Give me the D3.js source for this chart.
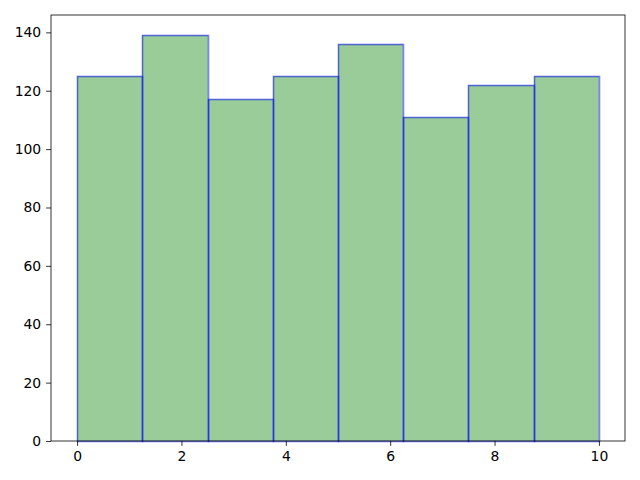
<!DOCTYPE html>
<html><head><meta charset="utf-8">
<script src="https://cdn.jsdelivr.net/npm/d3@7"></script>
<style>body{margin:0;background:#fff}svg{font-family:"DejaVu Sans",sans-serif}</style>
</head><body><svg id="c" width="640" height="480"></svg>
<script>
const binEdges = [0, 1.25, 2.5, 3.75, 5, 6.25, 7.5, 8.75, 10];
const counts = [125, 139, 117, 125, 136, 111, 122, 125];
const xTicks = [0, 2, 4, 6, 8, 10];
const yTicks = [0, 20, 40, 60, 80, 100, 120, 140];

const svg = d3.select("#c");
const L = 51, R = 625, T = 15, B = 441;
const x = d3.scaleLinear().domain([-0.5, 10.5]).range([L, R]);
const y = d3.scaleLinear().domain([0, 139 * 1.05]).range([B, T]);
const px = v => Math.round(v);

const bins = counts.map((c, i) => ({x0: binEdges[i], x1: binEdges[i + 1], c}));
svg.append("g").selectAll("rect").data(bins).join("rect")
  .attr("x", d => px(x(d.x0))).attr("width", d => px(x(d.x1)) - px(x(d.x0)))
  .attr("y", d => px(y(d.c))).attr("height", d => px(y(0)) - px(y(d.c)))
  .attr("shape-rendering", "crispEdges")
  .attr("fill", "rgb(0,128,0)").attr("fill-opacity", 0.4);
svg.append("g").selectAll("rect").data(bins).join("rect")
  .attr("x", d => px(x(d.x0)) + 0.5).attr("width", d => px(x(d.x1)) - px(x(d.x0)))
  .attr("y", d => px(y(d.c)) + 0.5).attr("height", d => px(y(0)) - px(y(d.c)))
  .attr("fill", "none")
  .attr("stroke", "rgb(0,0,255)").attr("stroke-opacity", 0.5).attr("stroke-width", 1.6);

const fs = 13.9, tl = 4.9;
const xa = svg.append("g").attr("transform", `translate(0,${B})`)
  .call(d3.axisBottom(x).tickValues(xTicks).tickSize(tl).tickPadding(tl).tickFormat(d3.format("d")));
const ya = svg.append("g").attr("transform", `translate(${L},0)`)
  .call(d3.axisLeft(y).tickValues(yTicks).tickSize(tl).tickPadding(tl).tickFormat(d3.format("d")));
[xa, ya].forEach(a => {
  a.attr("font-size", fs).attr("font-family", "DejaVu Sans");
  a.select(".domain").remove();
  a.selectAll("text").attr("font-size", fs).attr("fill", "#000");
  a.selectAll("line").attr("stroke", "#000").attr("stroke-width", 0.8);
});
svg.append("rect").attr("x", L).attr("y", T).attr("width", R - L).attr("height", B - T)
  .attr("fill", "none").attr("stroke", "#000").attr("stroke-width", 0.8);
</script></body></html>
